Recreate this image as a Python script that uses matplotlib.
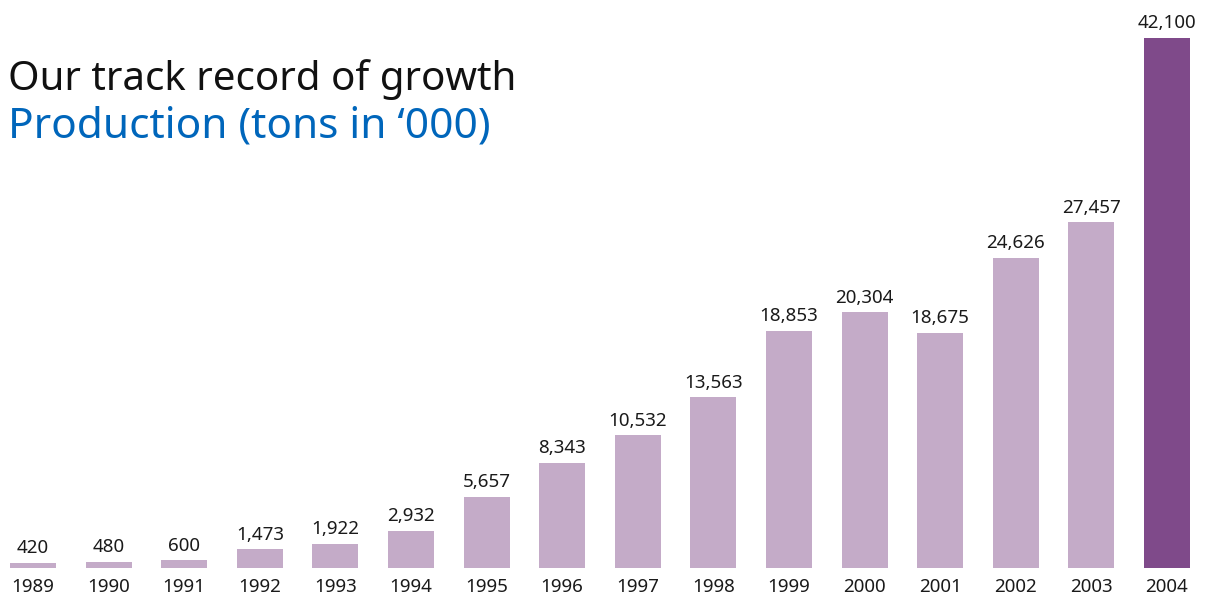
import matplotlib
matplotlib.use('Agg')
import matplotlib.pyplot as plt

# data
years = ['1989', '1990', '1991', '1992', '1993', '1994', '1995', '1996',
         '1997', '1998', '1999', '2000', '2001', '2002', '2003', '2004']
production = [420, 480, 600, 1473, 1922, 2932, 5657, 8343,
              10532, 13563, 18853, 20304, 18675, 24626, 27457, 42100]

light = '#C4ABC8'
dark = '#7F4A8A'
colors = [light] * (len(years) - 1) + [dark]

plt.rcParams['font.family'] = ['Noto Sans', 'DejaVu Sans']

fig = plt.figure(figsize=(12.21, 5.97), dpi=100)
ax = fig.add_axes([0, 29 / 597, 1, 530 / 597])

x = list(range(len(years)))
bars = ax.bar(x, production, width=0.61, color=colors)

for xi, v in zip(x, production):
    ax.annotate(f'{v:,}', (xi, v), xytext=(0, 7), textcoords='offset points',
                ha='center', va='baseline', fontsize=13.5, color='#1a1a1a',
                fontweight='light', annotation_clip=False)

ax.set_xlim(-0.437, 15.715)
ax.set_ylim(0, 42100)
ax.set_xticks(x)
ax.set_xticklabels(years, fontsize=13.5, color='#1a1a1a', fontweight='light')
ax.tick_params(axis='x', length=0, pad=7)
ax.set_yticks([])
for s in ax.spines.values():
    s.set_visible(False)
ax.patch.set_alpha(0)

fig.text(8 / 1221, 1 - 90 / 597, 'Our track record of growth', fontsize=29,
         color='#111111', va='baseline', ha='left', fontweight='light')
fig.text(8 / 1221, 1 - 137 / 597, 'Production (tons in \u2018000)', fontsize=30.5,
         color='#0066BB', va='baseline', ha='left', fontweight='light')

fig.savefig('out.png', dpi=100)
